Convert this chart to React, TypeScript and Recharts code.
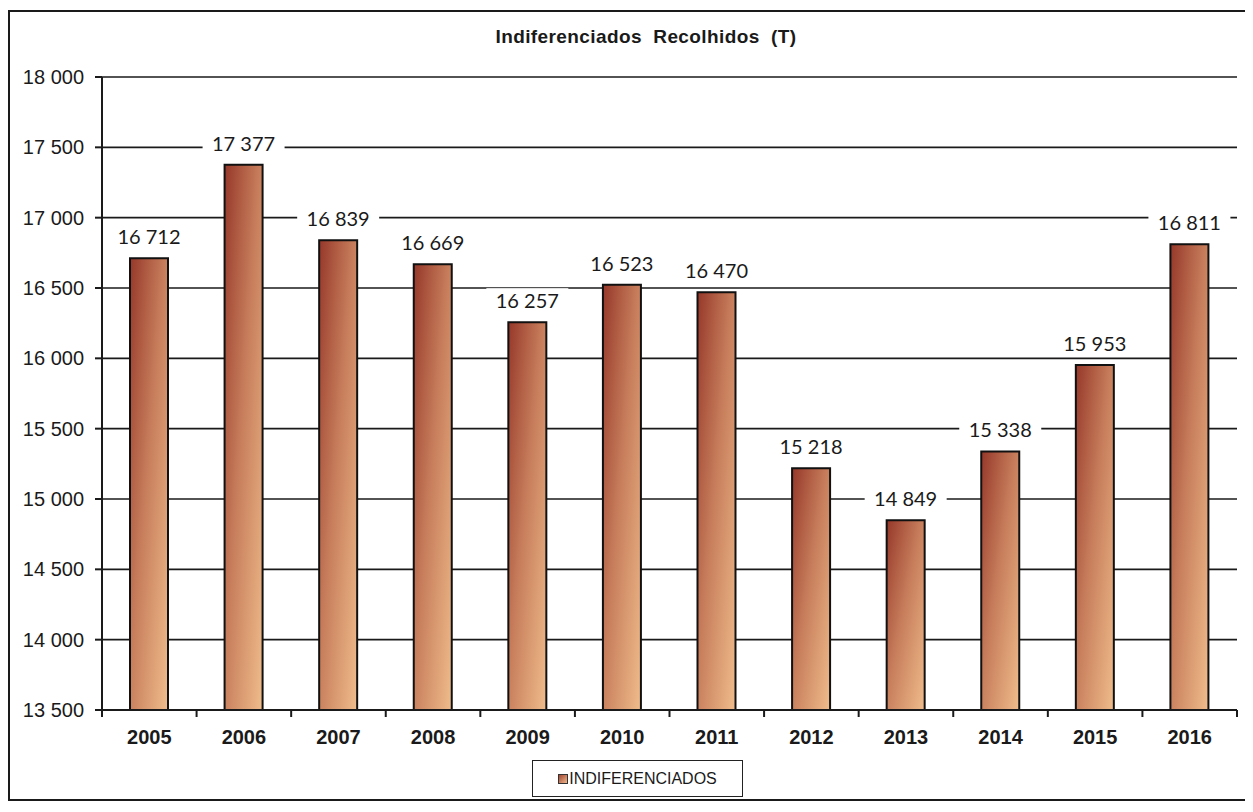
import React from 'react';
import { BarChart, Bar, XAxis, YAxis, CartesianGrid, LabelList, Legend } from 'recharts';

const years = ['2005', '2006', '2007', '2008', '2009', '2010', '2011', '2012', '2013', '2014', '2015', '2016'];
const values = [16712, 17377, 16839, 16669, 16257, 16523, 16470, 15218, 14849, 15338, 15953, 16811];
const yTicks = [13500, 14000, 14500, 15000, 15500, 16000, 16500, 17000, 17500, 18000];
const seriesName = 'INDIFERENCIADOS';
const chartTitle = 'Indiferenciados  Recolhidos  (T)';

const data = years.map((y, i) => ({ year: y, value: values[i] }));

const fmt = (v: number) => String(v).replace(/\B(?=(\d{3})+(?!\d))/g, ' ');

const ValueLabel = (props: any) => {
  const { x, y, width, value } = props;
  const cx = x + width / 2;
  const base = y - 14;
  return (
    <g>
      <rect x={cx - 41} y={base - 20} width={82} height={26} fill="#ffffff" />
      <text x={cx} y={base} textAnchor="middle" fontFamily="Lato, 'Open Sans', sans-serif" fontSize={20} fill="#1a1a1a">
        {fmt(value)}
      </text>
    </g>
  );
};

const YearTick = (props: any) => {
  const { x, y, payload, index, visibleTicksCount } = props;
  const half = payload && payload.offset ? payload.offset : 0;
  const isLast = index === (visibleTicksCount ?? years.length) - 1;
  return (
    <g>
      <line x1={x - half} y1={y} x2={x - half} y2={y + 7} stroke="#1a1a1a" strokeWidth={2} />
      {isLast && <line x1={x + half} y1={y} x2={x + half} y2={y + 7} stroke="#1a1a1a" strokeWidth={2} />}
      <text
        x={x}
        y={y + 34}
        textAnchor="middle"
        fontFamily="'Liberation Sans', Arial, sans-serif"
        fontWeight="bold"
        fontSize={20}
        fill="#1a1a1a"
      >
        {payload.value}
      </text>
    </g>
  );
};

const LegendBox = () => (
  <div
    style={{
      border: '1.5px solid #222',
      width: 211,
      height: 37,
      display: 'flex',
      alignItems: 'center',
      justifyContent: 'center',
      fontFamily: "'Liberation Sans', Arial, sans-serif",
      fontSize: 16,
      color: '#1a1a1a',
      boxSizing: 'border-box',
    }}
  >
    <span
      style={{
        display: 'inline-block',
        width: 8,
        height: 8,
        border: '1.5px solid #333',
        background: 'linear-gradient(135deg, #a04432, #f0b88a)',
        marginRight: 1,
      }}
    />
    {seriesName}
  </div>
);

export default function App() {
  return (
    <div
      style={{
        position: 'relative',
        marginTop: 2,
        width: 1238,
        height: 787,
        border: '2px solid #1a1a1a',
        background: '#fff',
      }}
    >
      <div
        style={{
          position: 'absolute',
          top: 14,
          left: 0,
          width: 1272,
          textAlign: 'center',
          fontFamily: "'Liberation Sans', Arial, sans-serif",
          fontWeight: 'bold',
          fontSize: 19,
          letterSpacing: 0.4,
          whiteSpace: 'pre',
          color: '#1a1a1a',
        }}
      >
        {chartTitle}
      </div>
      <BarChart
        width={1238}
        height={787}
        data={data}
        margin={{ top: 65, right: 11, bottom: 0, left: 0 }}
        barCategoryGap={0}
      >
        <defs>
          <linearGradient id="barGrad" x1="0" y1="0" x2="1" y2="1">
            <stop offset="0%" stopColor="#96372a" />
            <stop offset="45%" stopColor="#c67c5a" />
            <stop offset="100%" stopColor="#f0bd8c" />
          </linearGradient>
        </defs>
        <CartesianGrid horizontal vertical={false} stroke="#1a1a1a" strokeWidth={1.6} />
        <XAxis
          dataKey="year"
          axisLine={{ stroke: '#1a1a1a', strokeWidth: 2 }}
          tickLine={false}
          tickSize={0}
          tickMargin={0}
          height={52}
          interval={0}
          tick={<YearTick />}
        />
        <YAxis
          domain={[13500, 18000]}
          ticks={yTicks}
          width={92}
          tickSize={7}
          tickMargin={11}
          interval={0}
          tickFormatter={fmt}
          allowDataOverflow
          axisLine={{ stroke: '#1a1a1a', strokeWidth: 2 }}
          tickLine={{ stroke: '#1a1a1a', strokeWidth: 2 }}
          tick={{ fontFamily: "'Liberation Sans', Arial, sans-serif", fontSize: 20, fill: '#1a1a1a' }}
        />
        <YAxis
          yAxisId="right"
          orientation="right"
          domain={[13500, 18000]}
          width={0}
          tick={false}
          tickLine={false}
          axisLine={{ stroke: '#1a1a1a', strokeWidth: 2 }}
        />
        <Legend
          content={() => <LegendBox />}
          wrapperStyle={{ position: 'absolute', left: 522, top: 748, width: 211, bottom: 'auto' }}
        />
        <Bar
          dataKey="value"
          name={seriesName}
          fill="url(#barGrad)"
          stroke="#111"
          strokeWidth={2}
          barSize={38}
          isAnimationActive={false}
        >
          <LabelList dataKey="value" content={ValueLabel} />
        </Bar>
      </BarChart>
    </div>
  );
}
